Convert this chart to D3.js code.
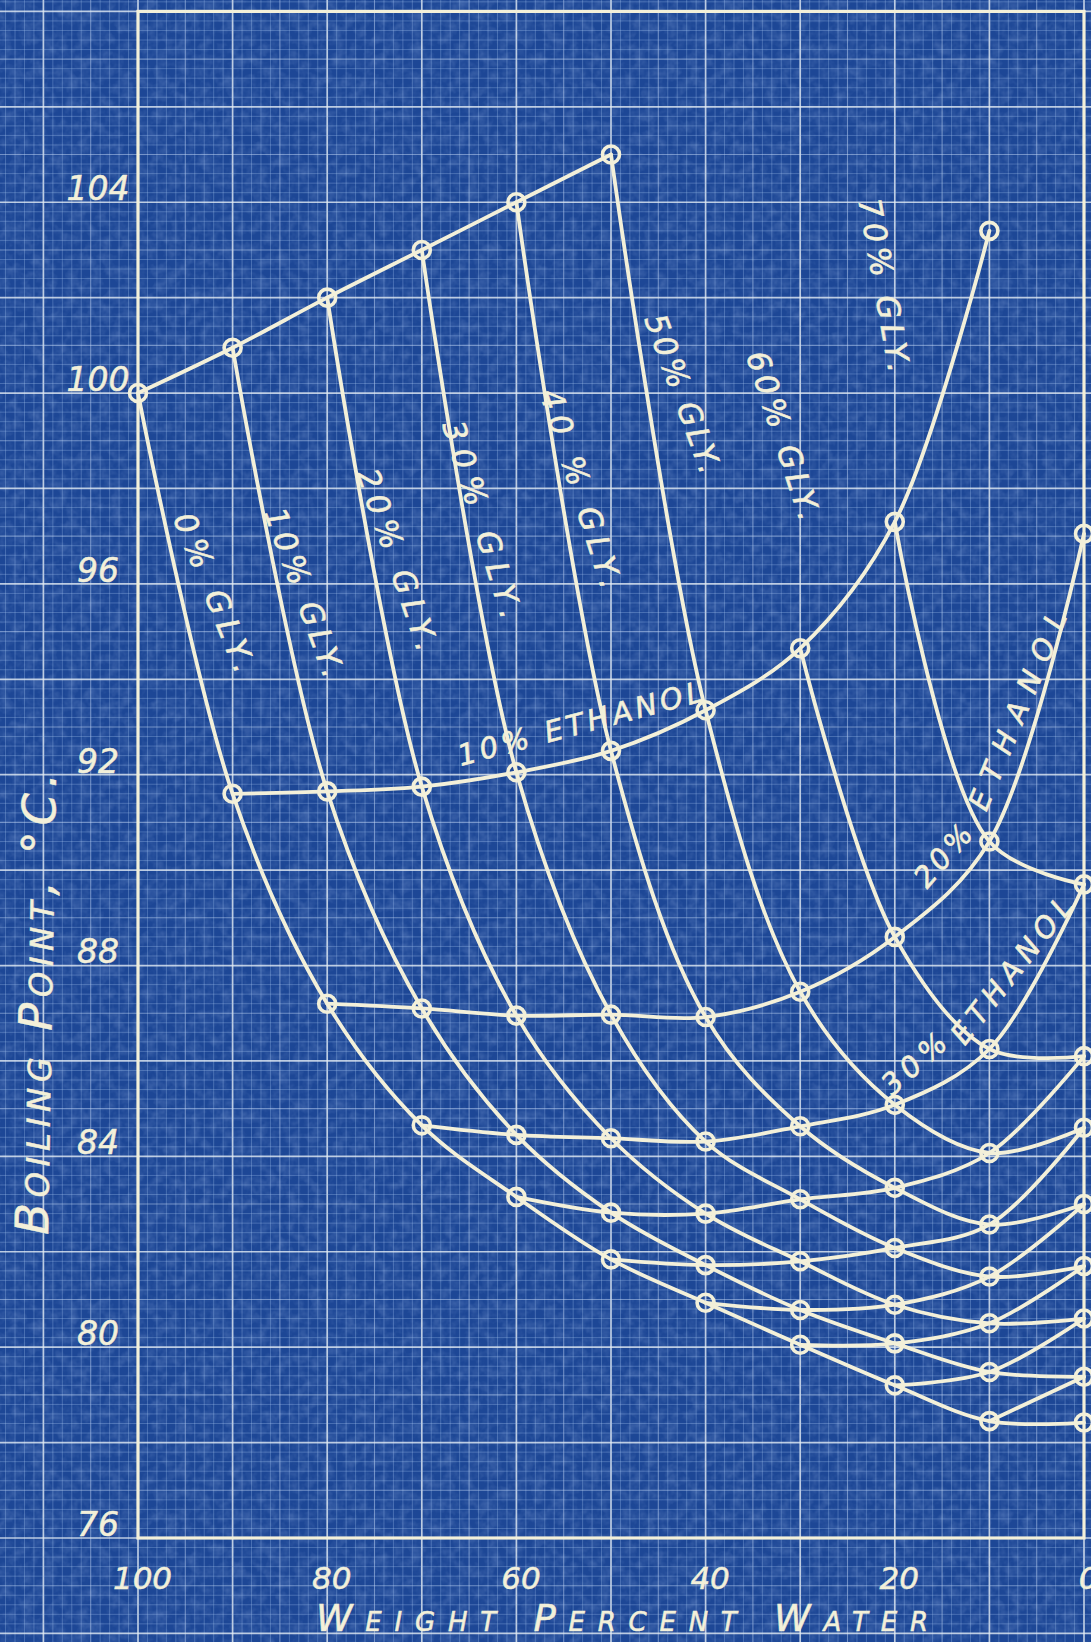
<!DOCTYPE html>
<html>
<head>
<meta charset="utf-8">
<script src="https://cdn.jsdelivr.net/npm/d3@7"></script>
<style>
  html, body { margin: 0; padding: 0; background: #1c4898; }
  svg { display: block; }
  text { font-family: "DejaVu Sans", sans-serif; font-style: italic; }
</style>
</head>
<body>
<svg id="chart" width="1091" height="1642"></svg>
<script>
// boiling points (deg C) read off the blueprint, one array per glycerol level,
// indexed by ethanol % (0,10,20,...). water % = 100 - gly - ethanol
const ethanolSteps = [0, 10, 20, 30, 40, 50, 60, 70, 80, 90, 100];
const glyLevels = [0, 10, 20, 30, 40, 50, 60, 70, 80];

const gly0  = [100.0, 91.6, 87.2, 84.65, 83.15, 81.84, 80.93, 80.05, 79.2, 78.45, 78.42];
const gly10 = [100.95, 91.65, 87.1, 84.45, 82.82, 81.72, 80.78, 80.08, 79.48, 79.38];
const gly20 = [102.0, 91.75, 86.95, 84.38, 82.8, 81.8, 80.89, 80.5, 80.6];
const gly30 = [103.0, 92.05, 86.97, 84.31, 83.1, 82.08, 81.48, 81.7];
const gly40 = [104.0, 92.5, 86.92, 84.63, 83.34, 82.57, 83.0];
const gly50 = [105.0, 93.35, 87.45, 85.08, 84.07, 84.6];
const gly60 = [null, 94.65, 88.6, 86.25, 86.1];
const gly70 = [null, 97.3, 90.6, 89.7];
const gly80 = [null, 103.4, 97.05];
const glyTemps = [gly0, gly10, gly20, gly30, gly40, gly50, gly60, gly70, gly80];

const xTicks = [100, 80, 60, 40, 20, 0];
const yTicks = [76, 80, 84, 88, 92, 96, 100, 104];

// hand lettered curve labels, placed in data units
const glyLabels = [
  { text: "0% GLY.",   w: 91.9,  t: 95.82, angle: 68,  len: 169 },
  { text: "10% GLY.",  w: 82.4,  t: 95.82, angle: 70,  len: 178 },
  { text: "20% GLY.",  w: 72.57, t: 96.51, angle: 71,  len: 190 },
  { text: "30% GLY.",  w: 63.58, t: 97.35, angle: 73,  len: 205 },
  { text: "40 % GLY.", w: 53.17, t: 98.0,  angle: 72.5, len: 207 },
  { text: "50% GLY.",  w: 42.39, t: 99.99, angle: 70,  len: 167 },
  { text: "60% GLY.",  w: 31.77, t: 99.11, angle: 72,  len: 176 },
  { text: "70% GLY.",  w: 21.09, t: 102.26, angle: 80, len: 176 }
];
const ethLabels = [
  { text: "10% ETHANOL", w: 53.28, t: 93.07, angle: -15,  len: 252 },
  { text: "20%",         w: 14.9,  t: 90.3,  angle: -49,  len: 72 },
  { text: "ETHANOL",     w: 7.02,  t: 93.34, angle: -67.5, len: 212 },
  { text: "30%",         w: 17.97, t: 85.94, angle: -41.5, len: 76 },
  { text: "ETHANOL",     w: 7.64,  t: 87.9,  angle: -52,  len: 178 }
];

const W = 1091, H = 1642;
const ink = "#f3f0d9";
const svg = d3.select("#chart");

const x = d3.scaleLinear().domain([100, 0]).range([138, 1084]);
const y = d3.scaleLinear().domain([76, 108]).range([1538, 11.4]);

// paper
svg.append("rect").attr("width", W).attr("height", H).attr("fill", "#1d4796");

const defs = svg.append("defs");
const noise = defs.append("filter").attr("id", "grain")
  .attr("x", 0).attr("y", 0).attr("width", "100%").attr("height", "100%");
noise.append("feTurbulence").attr("type", "fractalNoise")
  .attr("baseFrequency", 0.09).attr("numOctaves", 3).attr("seed", 7);
noise.append("feColorMatrix").attr("type", "matrix")
  .attr("values", "0 0 0 0 0.55  0 0 0 0 0.7  0 0 0 0 1  0 0 0 1.6 -0.6");
svg.append("rect").attr("width", W).attr("height", H)
  .attr("filter", "url(#grain)").attr("opacity", 0.22);

// graph paper grid, runs past the frame to the page edges
const grid = svg.append("g").attr("class", "grid");
const wMin = Math.floor(x.invert(W)), wMax = Math.ceil(x.invert(0));
const tSteps = d3.range(Math.floor((y.invert(H) - 76) / 0.2), Math.ceil((y.invert(0) - 76) / 0.2) + 1);

const mod = (a, n) => ((a % n) + n) % n;
function gridStyle(i) {
  if (mod(i, 10) === 0) return { c: "rgba(228,236,244,0.8)", w: 1.7 };
  if (mod(i, 5) === 0) return { c: "rgba(195,215,245,0.5)", w: 1.1 };
  return { c: "rgba(165,195,240,0.36)", w: 0.9 };
}
d3.range(wMin, wMax + 1).forEach(w => {
  const s = gridStyle(w);
  grid.append("line").attr("x1", x(w)).attr("x2", x(w)).attr("y1", 0).attr("y2", H)
    .attr("stroke", s.c).attr("stroke-width", s.w);
});
tSteps.forEach(i => {
  const s = gridStyle(i);
  const t = 76 + i * 0.2;
  grid.append("line").attr("x1", 0).attr("x2", W).attr("y1", y(t)).attr("y2", y(t))
    .attr("stroke", s.c).attr("stroke-width", s.w);
});

// frame
svg.append("rect")
  .attr("x", x(100)).attr("y", y(108))
  .attr("width", x(0) - x(100)).attr("height", y(76) - y(108))
  .attr("fill", "none").attr("stroke", ink).attr("stroke-width", 3.2);

// build the ternary points
const points = [];
glyLevels.forEach((g, gi) => {
  glyTemps[gi].forEach((t, ei) => {
    if (t == null) return;
    const e = ethanolSteps[ei];
    points.push({ g, e, w: 100 - g - e, t });
  });
});

const line = d3.line()
  .x(d => x(d.w)).y(d => y(d.t))
  .curve(d3.curveCatmullRom.alpha(0.5));

const curves = svg.append("g").attr("fill", "none").attr("stroke", ink)
  .attr("stroke-width", 3.8).attr("stroke-linecap", "round");

// constant glycerol lines (80% gly has only its two end points)
glyLevels.filter(g => g <= 70).forEach(g => {
  const pts = points.filter(p => p.g === g).sort((a, b) => a.e - b.e);
  curves.append("path").attr("d", line(pts));
});
// constant ethanol lines
ethanolSteps.forEach(e => {
  const pts = points.filter(p => p.e === e).sort((a, b) => a.g - b.g);
  if (pts.length > 1) curves.append("path").attr("d", line(pts));
});

svg.append("g").selectAll("circle").data(points).join("circle")
  .attr("cx", d => x(d.w)).attr("cy", d => y(d.t)).attr("r", 8.5)
  .attr("fill", "none").attr("stroke", ink).attr("stroke-width", 3.6);

// axes
const yAxis = d3.axisLeft(y).tickValues(yTicks).tickSize(0).tickFormat(d3.format("d"));
svg.append("g").attr("transform", `translate(${x(100)},0)`).call(yAxis)
  .attr("font-family", null).attr("font-size", 33)
  .call(g => g.select(".domain").remove())
  .selectAll("text")
  .attr("x", -40).attr("dy", "-0.08em").attr("text-anchor", "middle")
  .attr("fill", ink).attr("stroke", ink).attr("stroke-width", 0.5);

const xAxis = d3.axisBottom(x).tickValues(xTicks).tickSize(0).tickFormat(d3.format("d"));
svg.append("g").attr("transform", `translate(0,${y(76)})`).call(xAxis)
  .attr("font-family", null).attr("font-size", 31)
  .call(g => g.select(".domain").remove())
  .selectAll("text")
  .attr("x", 4).attr("y", 51).attr("dy", 0)
  .attr("fill", ink).attr("stroke", ink).attr("stroke-width", 0.5);

// axis titles
svg.append("text")
  .attr("x", 622).attr("y", 1631)
  .attr("text-anchor", "middle")
  .attr("font-size", 37).attr("font-variant", "small-caps")
  .attr("textLength", 612).attr("lengthAdjust", "spacing")
  .attr("fill", ink).attr("stroke", ink).attr("stroke-width", 0.5)
  .text("Weight Percent Water");

svg.append("text")
  .attr("transform", "translate(52,1004) rotate(-89)")
  .attr("text-anchor", "middle")
  .attr("font-size", 46).attr("font-variant", "small-caps")
  .attr("textLength", 462).attr("lengthAdjust", "spacing")
  .attr("fill", ink).attr("stroke", ink).attr("stroke-width", 0.5)
  .text("Boiling Point, °C.");

// curve labels
svg.append("g").selectAll("text").data(glyLabels.concat(ethLabels)).join("text")
  .attr("transform", d => `translate(${x(d.w)},${y(d.t)}) rotate(${d.angle})`)
  .attr("text-anchor", "middle").attr("dominant-baseline", "central")
  .attr("font-size", d => d.text.includes("GLY") ? 31 : 29)
  .attr("textLength", d => d.len).attr("lengthAdjust", "spacing")
  .attr("fill", ink).attr("stroke", ink).attr("stroke-width", 0.6)
  .text(d => d.text);
</script>
</body>
</html>
